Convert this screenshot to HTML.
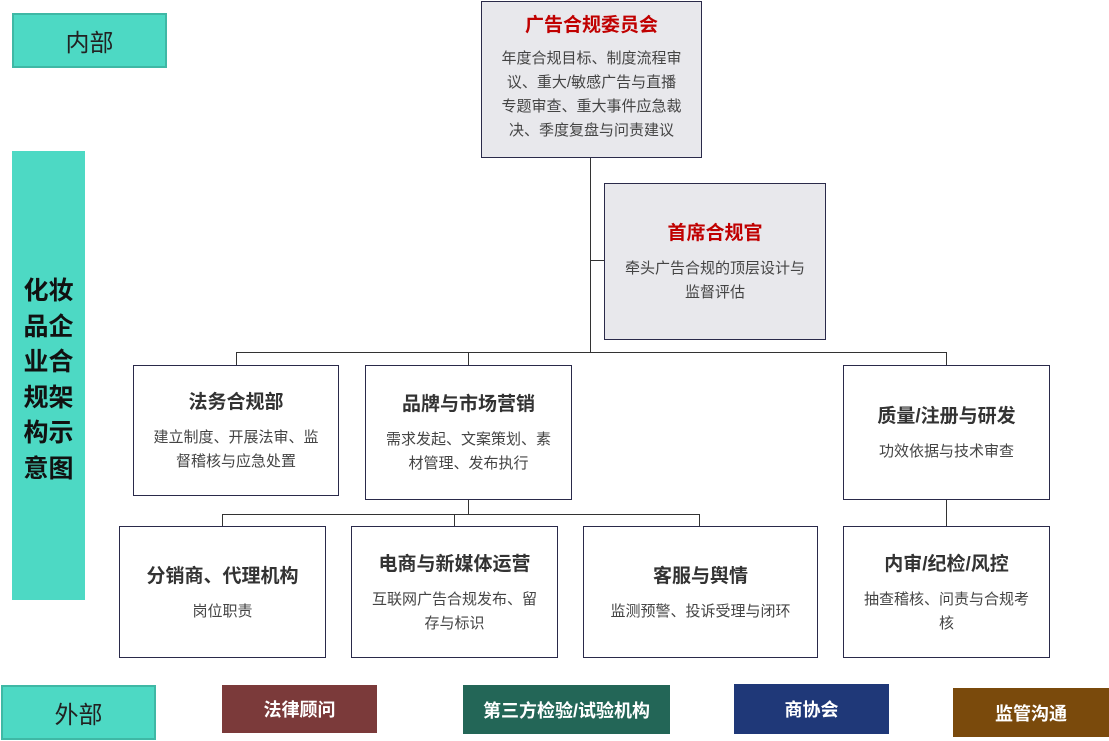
<!DOCTYPE html>
<html><head><meta charset="utf-8"><style>
body{margin:0;width:1109px;height:741px;background:#fff;position:relative;overflow:hidden;font-family:"Liberation Sans","Noto Sans CJK SC",sans-serif}
.b{position:absolute;box-sizing:border-box;border:1.5px solid #2a2a4a;background:#fff;text-align:center;color:#333;display:flex;flex-direction:column;justify-content:center;align-items:center}
.t{font-weight:bold;font-size:19px;color:#333;margin-bottom:12px}
.d{font-size:15px;line-height:24px;color:#444;padding:0 14px}
.l{position:absolute;background:#333}
.tag{position:absolute;box-sizing:border-box;display:flex;align-items:center;justify-content:center;color:#fff;font-weight:bold;font-size:18px}
</style></head><body>
<div class="tag" style="left:12px;top:13px;width:155px;height:55px;background:#4dd9c4;border:2px solid #3fb8a5;color:#222;font-weight:normal;font-size:24px">内部</div>
<div class="tag" style="left:12px;top:151px;width:73px;height:449px;background:#4dd9c4;color:#111;font-size:25px;line-height:35.5px;text-align:center;padding-top:10px">化妆<br>品企<br>业合<br>规架<br>构示<br>意图</div>
<div class="tag" style="left:1px;top:685px;width:155px;height:55px;background:#4dd9c4;border:2px solid #3fb8a5;color:#222;font-weight:normal;font-size:24px">外部</div>
<div class="tag" style="left:222px;top:685px;width:155px;height:48px;background:#7b3a3a">法律顾问</div>
<div class="tag" style="left:463px;top:685px;width:207px;height:49px;background:#236657">第三方检验/试验机构</div>
<div class="tag" style="left:734px;top:684px;width:155px;height:50px;background:#1f3878">商协会</div>
<div class="tag" style="left:953px;top:688px;width:156px;height:49px;background:#7a4a0c">监管沟通</div>

<div class="l" style="left:590px;top:157px;width:1px;height:195px"></div>
<div class="l" style="left:590px;top:260px;width:14px;height:1px"></div>
<div class="l" style="left:236px;top:352px;width:711px;height:1px"></div>
<div class="l" style="left:236px;top:352px;width:1px;height:13px"></div>
<div class="l" style="left:468px;top:352px;width:1px;height:13px"></div>
<div class="l" style="left:946px;top:352px;width:1px;height:13px"></div>
<div class="l" style="left:468px;top:499px;width:1px;height:15px"></div>
<div class="l" style="left:222px;top:514px;width:478px;height:1px"></div>
<div class="l" style="left:222px;top:514px;width:1px;height:12px"></div>
<div class="l" style="left:454px;top:514px;width:1px;height:12px"></div>
<div class="l" style="left:699px;top:514px;width:1px;height:12px"></div>
<div class="l" style="left:946px;top:499px;width:1px;height:27px"></div>

<div class="b" style="left:481px;top:1px;width:221px;height:157px;background:#e8e8ec;justify-content:flex-start;padding-top:8px"><div class="t" style="color:#c00000;margin-bottom:10px">广告合规委员会</div><div class="d" style="padding:0;white-space:nowrap">年度合规目标、制度流程审<br>议、重大/敏感广告与直播<br>专题审查、重大事件应急裁<br>决、季度复盘与问责建议</div></div>
<div class="b" style="left:604px;top:183px;width:222px;height:157px;background:#e8e8ec"><div class="t" style="color:#c00000">首席合规官</div><div class="d">牵头广告合规的顶层设计与监督评估</div></div>

<div class="b" style="left:133px;top:365px;width:206px;height:131px"><div class="t">法务合规部</div><div class="d">建立制度、开展法审、监督稽核与应急处置</div></div>
<div class="b" style="left:365px;top:365px;width:207px;height:135px"><div class="t">品牌与市场营销</div><div class="d">需求发起、文案策划、素材管理、发布执行</div></div>
<div class="b" style="left:843px;top:365px;width:207px;height:135px"><div class="t">质量/注册与研发</div><div class="d">功效依据与技术审查</div></div>

<div class="b" style="left:119px;top:526px;width:207px;height:132px"><div class="t">分销商、代理机构</div><div class="d">岗位职责</div></div>
<div class="b" style="left:351px;top:526px;width:207px;height:132px"><div class="t">电商与新媒体运营</div><div class="d">互联网广告合规发布、留存与标识</div></div>
<div class="b" style="left:583px;top:526px;width:235px;height:132px"><div class="t">客服与舆情</div><div class="d">监测预警、投诉受理与闭环</div></div>
<div class="b" style="left:843px;top:526px;width:207px;height:132px"><div class="t">内审/纪检/风控</div><div class="d">抽查稽核、问责与合规考核</div></div>
</body></html>
